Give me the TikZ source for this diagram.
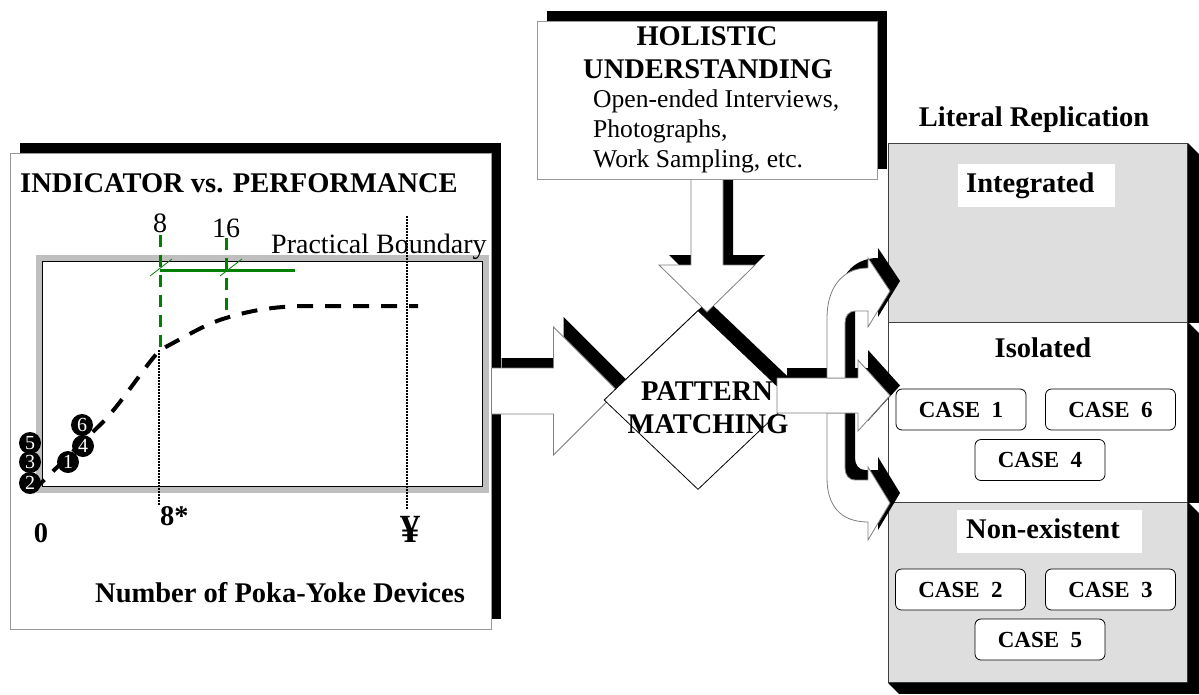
\documentclass[tikz,border=0pt]{standalone}
\usepackage{fontspec}
\setmainfont{Liberation Serif}
\usetikzlibrary{shapes.geometric}

\definecolor{framegray}{gray}{0.75}
\definecolor{secgray}{gray}{0.87}
\definecolor{edgegray}{gray}{0.6}
\definecolor{arrowgray}{gray}{0.5}
\definecolor{edgedark}{gray}{0.25}
\definecolor{plotgreen}{RGB}{0,128,0}

\begin{document}
\begin{tikzpicture}[
	x=1pt, y=-1pt,
	boldtext/.style={font=\fontsize{28.5}{33}\selectfont\bfseries, inner sep=0pt},
	plaintext/.style={font=\fontsize{28}{32}\selectfont, inner sep=0pt},
	bodytext/.style={font=\fontsize{25.6}{30}\selectfont, inner sep=0pt},
	blockshadow/.style={preaction={fill=black, draw=none, transform canvas={shift={(10pt,10pt)}}}},
	panel/.style={draw=edgegray, fill=white, line width=1pt, inner sep=0pt, blockshadow},
	hollow/.style={draw=arrowgray, fill=white, line width=0.8pt, blockshadow},
	decision/.style={diamond, draw=black, fill=white, line width=0.8pt, inner sep=0pt, blockshadow},
	plotbox/.style={draw=black, fill=white, line width=0.8pt, inner sep=0pt, preaction={draw=framegray, line width=13pt}},
	section/.style={draw=edgedark, line width=0.8pt, minimum width=299pt, inner sep=0pt, anchor=north west},
	tagbox/.style={boldtext, fill=white, inner xsep=8pt, inner ysep=0pt, text height=20pt, text depth=6pt, minimum height=43pt, anchor=north west},
	casebox/.style={draw=black, fill=white, line width=0.8pt, rounded corners=6pt, minimum width=130pt, minimum height=41pt, inner sep=0pt, font=\fontsize{23}{26}\selectfont\bfseries},
	ptmark/.style={circle, fill=black, minimum size=22pt, inner sep=0pt, text=white, font=\fontsize{20}{20}\selectfont},
	greendash/.style={draw=plotgreen, line width=3pt, dash pattern=on 12pt off 8pt},
	greenline/.style={draw=plotgreen, line width=3pt},
	greentick/.style={draw=plotgreen, line width=0.8pt},
	dotline/.style={draw=black, line width=1.5pt, dash pattern=on 1.5pt off 1.5pt},
	curve/.style={draw=black, line width=4pt, dash pattern=on 16pt off 12pt}
	]

\path[use as bounding box, fill=white] (0,0) rectangle (1199,694);

% indicator panel and chart
\node[panel, minimum width=481pt, minimum height=476pt] (indpanel) at (250.5,391) {};
\node[boldtext, anchor=base west] (title) at (20,192) {INDICATOR vs. PERFORMANCE};
\node[plotbox, minimum width=440pt, minimum height=225pt] (plot) at (262,373.5) {};

\coordinate (top8) at (160,235);
\coordinate (top16) at (226,238);
\coordinate (on8) at (160,350);
\coordinate (on16) at (226,318);
\coordinate (bndend) at (295,270);
\draw[greendash] (top8) -- (on8);
\draw[greendash] (top16) -- (on16);
\draw[greenline] (top8 |- bndend) -- (bndend);
\draw[greentick] (150,276) -- (172,259);
\draw[greentick] (220,276) -- (242,259);

\node[plaintext, anchor=base] (lbl8) at (160,232) {8};
\node[plaintext, anchor=base] (lbl16) at (226,237) {16};
\node[plaintext, anchor=base west] (boundary) at (271,253) {Practical Boundary};

\coordinate (foot8) at (159,505);
\coordinate (yentop) at (407,216);
\coordinate (yenfoot) at (407,510);
\draw[dotline] (on8 -| foot8) -- (foot8);
\draw[dotline] (yentop) -- (yenfoot);

\draw[curve] (33,491) -- (105,420) .. controls (125,398) and (145,366) .. (on8)
  .. controls (185,337) and (205,324) .. (on16)
  .. controls (255,309) and (280,306) .. (310,306) -- (418,306);

\foreach \num/\cx/\cy in {5/30/443, 3/30/462, 2/30/483, 1/68/462, 4/83/446, 6/82/425}
  \node[ptmark] (m\num) at (\cx,\cy) {\num};

\node[boldtext, anchor=base west] (lblstar) at (160,525) {8*};
\node[boldtext, anchor=base] (lblzero) at (41,542) {0};
\node[boldtext, font=\fontsize{40}{40}\selectfont\bfseries, anchor=base] (lblyen) at (410,542) {¥};
\node[boldtext, anchor=base west] (xaxis) at (95,602) {Number of Poka-Yoke Devices};

% arrow into the matching step
\draw[hollow] ([yshift=23pt]indpanel.east) -- ++(62,0) -- ++(0,-41) -- ++(64,64)
  -- ++(-64,64) -- ++(0,-41) -- ++(-62,0) -- cycle;

\node[decision, minimum width=188pt, minimum height=179pt] (matching) at (698,400) {};

% holistic understanding
\coordinate (holfoot) at (707,179);
\draw[hollow] ([xshift=-16pt]holfoot) -- ++(0,86) -- ++(-32,0) -- ++(48,47)
  -- ++(48,-47) -- ++(-32,0) -- ++(0,-86) -- cycle;
\node[panel, minimum width=340pt, minimum height=158pt] (holbox) at (707,100) {};
\node[boldtext, anchor=base] (holtitle1) at (707,45) {HOLISTIC};
\node[boldtext, anchor=base] (holtitle2) at (708,78) {UNDERSTANDING};
\foreach \entry [count=\i] in {{Open-ended Interviews,},{Photographs,},{Work Sampling, etc.}}
  \node[bodytext, anchor=base west] (holline\i) at (593,77+30*\i) {\entry};

% literal replication
\node[boldtext, anchor=base] (replication) at (1034,126) {Literal Replication};
\node[section, fill=secgray, minimum height=179pt] (integrated) at (888,143) {};
\node[section, fill=white, minimum height=180pt] (isolated) at (888,322) {};
\node[section, fill=secgray, minimum height=180pt] (nonexist) at (888,502) {};
\fill (integrated.north east) -- ++(11,11) -- ([xshift=11pt]integrated.south east) -- (integrated.south east) -- cycle;
\fill (isolated.north east) -- ++(11,11) -- ([xshift=11pt]isolated.south east) -- (isolated.south east) -- cycle;
\fill (nonexist.north east) -- ++(11,11) -- ([shift={(11pt,-11pt)}]nonexist.south east)
  -- ([shift={(11pt,-11pt)}]nonexist.south west) -- (nonexist.south west) -- (nonexist.south east) -- cycle;

\node[tagbox, text width=141pt] (integratedtag) at (958,164) {Integrated};
\node[boldtext, anchor=base] (isolatedtag) at (1043,357) {Isolated};
\node[tagbox, text width=167pt, inner xsep=9pt] (nonexisttag) at (957,510) {Non-existent};

\foreach \cid/\num/\cx/\cy in {case1/1/961/409.5, case6/6/1110.5/409.5, case4/4/1040/460,
    case2/2/960.5/589.5, case3/3/1110.5/589.5, case5/5/1040/639.5}
  \node[casebox] (\cid) at (\cx,\cy) {CASE\ \ \num};

% arrows out of the matching step
\coordinate (fork) at (777,395.5);
\draw[hollow] (827,413) -- (827,478) .. controls (827,505) and (840,522) .. (868,522)
  -- (868,540) -- (890,503) -- (868,467) -- (868,480) -- (855,480)
  .. controls (849,480) and (845,475) .. (845,468) -- (845,413) -- cycle;
\draw[hollow] ([yshift=17.5pt]fork) -- ++(81,0) -- ++(0,-18) -- ++(32,35.5)
  -- ++(-32,35.5) -- ++(0,-18) -- ++(-81,0) -- cycle;
\draw[hollow] (827,378) -- (827,318) .. controls (827,288) and (842,268) .. (868,268)
  -- (868,258) -- (890,291) -- (868,327) -- (868,311) -- (855,311)
  .. controls (849,311) and (845,316) .. (845,323) -- (845,378) -- cycle;

\node[boldtext, anchor=base] (pattern1) at (707,400) {PATTERN};
\node[boldtext, anchor=base] (pattern2) at (708,433) {MATCHING};

\end{tikzpicture}
\end{document}
